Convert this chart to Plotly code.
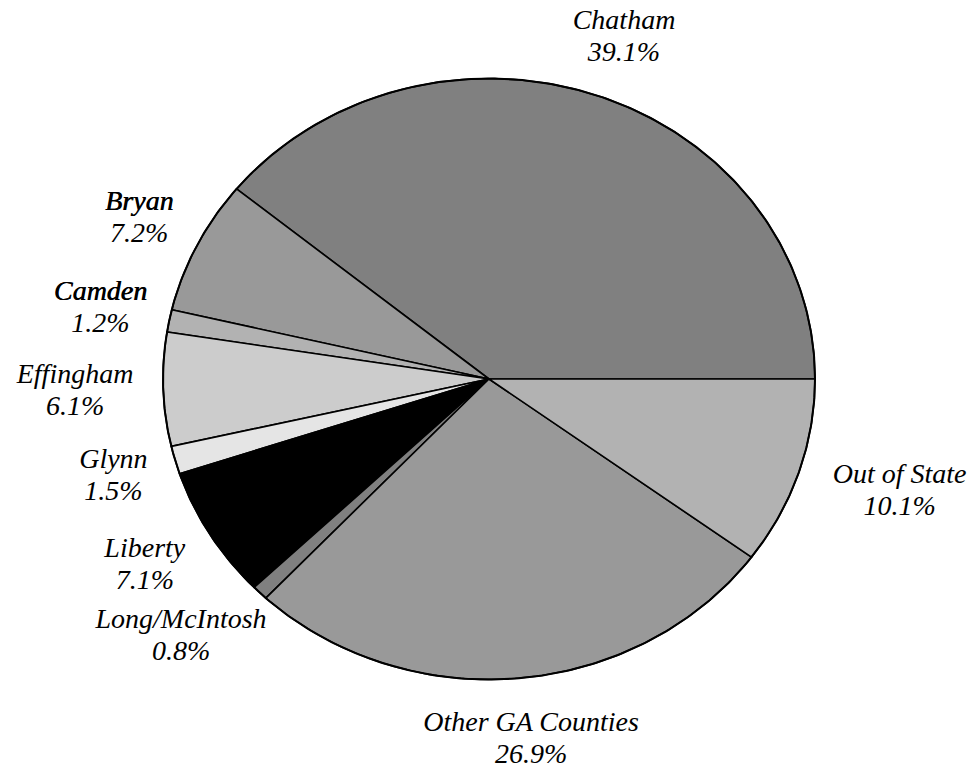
import numpy as np
import plotly.graph_objects as go

# ---- data ----
categories = ["Chatham", "Bryan", "Camden", "Effingham", "Glynn", "Liberty",
              "Long/McIntosh", "Other GA Counties", "Out of State"]
shares = [39.1, 7.2, 1.2, 6.1, 1.5, 7.1, 0.8, 26.9, 10.1]
colors = ["#808080", "#999999", "#b2b2b2", "#cccccc", "#e5e5e5", "#000000",
          "#808080", "#999999", "#b2b2b2"]
heavy_names = ["Bryan", "Camden"]   # drawn slightly heavier in the original

# ---- layout geometry (pixels) ----
W, H = 971, 769
CX, CY = 489, 379          # pie centre
RX, RY = 326, 300.5        # ellipse radii
FS = 28                    # label font size
GAPX, GAPY = 34, 30        # gap between pie edge and label box
LINE = 32                  # label line spacing

# axes in "radius units": x=1 -> RX pixels, y=1 -> RY pixels
x_range = [-CX / RX, (W - CX) / RX]
y_range = [-(H - CY) / RY, CY / RY]

fig = go.Figure()

total = sum(shares)
start = 0.0
mids = []
for cat, v, col in zip(categories, shares, colors):
    a0 = start / total * 2 * np.pi
    a1 = (start + v) / total * 2 * np.pi
    n = max(3, int(np.ceil((a1 - a0) / (2 * np.pi) * 400)))
    t = np.linspace(a0, a1, n)
    xs = np.concatenate([[0], np.cos(t), [0]])
    ys = np.concatenate([[0], np.sin(t), [0]])
    fig.add_trace(go.Scatter(
        x=xs, y=ys, mode="lines", fill="toself", fillcolor=col,
        line=dict(color="black", width=1.6), hoverinfo="skip", showlegend=False))
    mids.append((a0 + a1) / 2)
    start += v

# outer outline
t = np.linspace(0, 2 * np.pi, 600)
fig.add_trace(go.Scatter(x=np.cos(t), y=np.sin(t), mode="lines",
                         line=dict(color="black", width=2),
                         hoverinfo="skip", showlegend=False))

# label positions computed from mid-angles
lx, ly_name, ly_pct = [], [], []
for cat, m in zip(categories, mids):
    w = max(len(cat), 5) * 0.43 * FS
    h = 2 * LINE
    dx = (RX + GAPX + w / 2) * np.cos(m)
    dy = (RY + GAPY + h / 2) * np.sin(m)
    lx.append(dx / RX)
    ly_name.append((dy + LINE / 2) / RY)
    ly_pct.append((dy - LINE / 2) / RY)

font = dict(family="Liberation Serif", size=FS, color="black", style="italic")
heavy_font = dict(font, shadow="0.6px 0px 0px black")

reg_idx = [i for i, c in enumerate(categories) if c not in heavy_names]
hv_idx = [i for i, c in enumerate(categories) if c in heavy_names]

fig.add_trace(go.Scatter(x=[lx[i] for i in reg_idx], y=[ly_name[i] for i in reg_idx],
                         mode="text", text=[categories[i] for i in reg_idx],
                         textposition="middle center", textfont=font,
                         hoverinfo="skip", showlegend=False))
fig.add_trace(go.Scatter(x=[lx[i] for i in hv_idx], y=[ly_name[i] for i in hv_idx],
                         mode="text", text=[categories[i] for i in hv_idx],
                         textposition="middle center", textfont=heavy_font,
                         hoverinfo="skip", showlegend=False))
fig.add_trace(go.Scatter(x=lx, y=ly_pct, mode="text",
                         text=[f"{v:.1f}%" for v in shares],
                         textposition="middle center", textfont=font,
                         hoverinfo="skip", showlegend=False))

fig.update_layout(
    width=W, height=H, margin=dict(l=0, r=0, t=0, b=0),
    paper_bgcolor="white", plot_bgcolor="white",
    font=dict(family="Liberation Serif"),
    xaxis=dict(range=x_range, visible=False, fixedrange=True),
    yaxis=dict(range=y_range, visible=False, fixedrange=True),
)

fig.write_html("out.html", config={"displayModeBar": False},
               post_script="document.body.style.margin='0';")
